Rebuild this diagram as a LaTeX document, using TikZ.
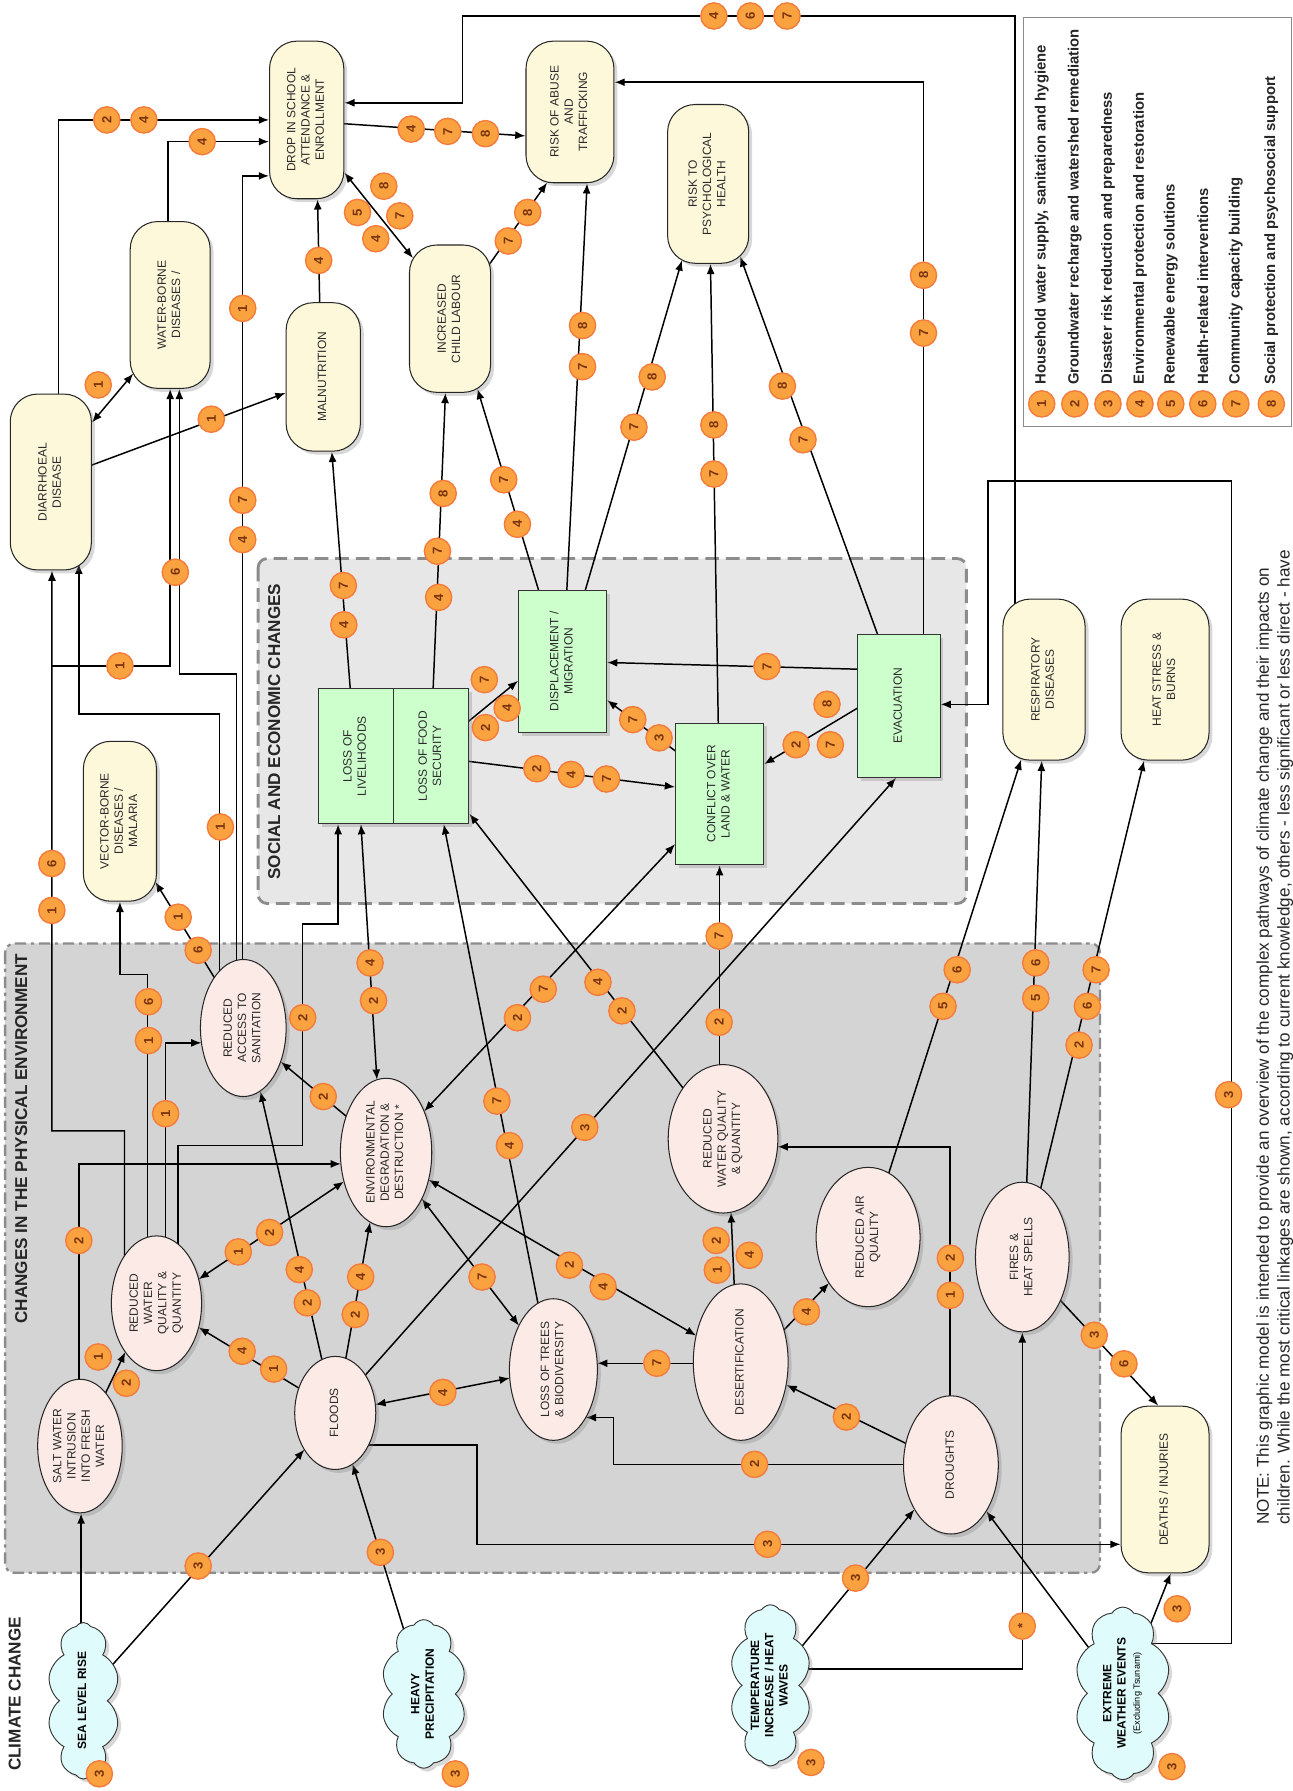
\documentclass[tikz,border=0pt]{standalone}
\usepackage{fontspec}
\setmainfont{Liberation Sans}
\usetikzlibrary{shapes.geometric,shapes.symbols,arrows.meta,calc,shadows}
\definecolor{capfill}{HTML}{FDF8DA}
\definecolor{ellfill}{HTML}{FCEAE6}
\definecolor{boxfill}{HTML}{CCFFCC}
\definecolor{cloudfill}{HTML}{DFFBFB}
\definecolor{physfill}{HTML}{D4D4D4}
\definecolor{socfill}{HTML}{E7E7E7}
\definecolor{regborder}{HTML}{8C8C8C}
\definecolor{bfill}{HTML}{F9A23F}
\definecolor{bdraw}{HTML}{F47B3B}
\definecolor{btext}{HTML}{7A3410}
\definecolor{txt}{HTML}{2B2B2B}
\newcommand{\rt}[1]{\rotatebox{90}{\begin{tabular}{@{}c@{}}#1\end{tabular}}}
\newcommand{\nf}{\fontsize{10.5}{12.5}\selectfont}
\newcounter{bdc}
\newcommand{\bdg}[3]{\stepcounter{bdc}\node[badge] (bd\thebdc) at (#1,#2) {\rotatebox{90}{#3}};}
\pgfdeclarelayer{bgr}\pgfdeclarelayer{lines}\pgfdeclarelayer{fore}
\pgfsetlayers{bgr,lines,main,fore}
\tikzset{
  >={Latex[length=9pt,width=7pt]},
  wh/.style 2 args={minimum width=#1pt, minimum height=#2pt},
  shad/.style={drop shadow={opacity=0.3, shadow xshift=3pt, shadow yshift=-3pt}},
  outcome/.style={rectangle, rounded corners=24pt, draw=black!85, line width=0.9pt, fill=capfill, inner sep=0pt, text=txt, font=\nf, shad},
  physical/.style={ellipse, draw=black!85, line width=0.9pt, fill=ellfill, inner sep=0pt, text=txt, font=\nf, shad},
  social/.style={rectangle, draw=black!80, line width=0.9pt, fill=boxfill, inner sep=0pt, text=txt, font=\nf, shad},
  driver/.style={cloud, cloud puffs=10, cloud puff arc=115, cloud ignores aspect, draw=black!80, line width=0.8pt, fill=cloudfill, inner sep=0pt, shad},
  drivertext/.style={inner sep=0pt, text=black, font=\bfseries\fontsize{10.5}{12.5}\selectfont},
  badge/.style={circle, fill=bfill, draw=bdraw, line width=1.2pt, minimum size=23pt, inner sep=0pt, text=btext, font=\bfseries\fontsize{11.5}{12}\selectfont},
  link/.style={draw=black, line width=1.3pt, ->},
  both/.style={draw=black, line width=1.3pt, <->},
  section/.style={inner sep=0pt, font=\bfseries\fontsize{15}{18}\selectfont, text=black!85},
  legtext/.style={inner sep=0pt, font=\bfseries\fontsize{13}{15}\selectfont, text=black!85},
}
\begin{document}
\begin{tikzpicture}[x=1pt,y=-1pt]
\useasboundingbox (0,0) rectangle (1132,1568);
\begin{pgfonlayer}{bgr}
\fill[white] (0,0) rectangle (1132,1568);
\fill[physfill, rounded corners=8pt] (4.5,826) rectangle (963,1377);
\draw[regborder, line width=2pt, rounded corners=8pt, dash pattern=on 10pt off 4pt on 3pt off 4pt] (4.5,826) rectangle (963,1377);
\fill[socfill, rounded corners=8pt] (226,489) rectangle (846,791);
\draw[regborder, line width=2.5pt, rounded corners=8pt, dash pattern=on 12pt off 6pt] (226,489) rectangle (846,791);
\end{pgfonlayer}

% section titles
\node[section] (tcc) at (13,1483) {\rotatebox{90}{CLIMATE CHANGE}};
\node[section] (tpe) at (18.5,997) {\rotatebox{90}{CHANGES IN THE PHYSICAL ENVIRONMENT}};
\node[section] (tse) at (240,640.5) {\rotatebox{90}{SOCIAL AND ECONOMIC CHANGES}};

% outcomes
\node[outcome, wh={65}{138}] (drop) at (268.5,105) {\rt{DROP IN SCHOOL\\ATTENDANCE \&\\ENROLLMENT}};
\node[outcome, wh={77}{124}] (abuse) at (499,98) {\rt{RISK OF ABUSE\\AND\\TRAFFICKING}};
\node[outcome, wh={71}{139}] (psych) at (620,161) {\rt{RISK TO\\PSYCHOLOGICAL\\HEALTH}};
\node[outcome, wh={70}{146}] (wborne) at (149,267) {\rt{WATER-BORNE\\DISEASES /}};
\node[outcome, wh={65}{130}] (malnut) at (283,330) {\rt{MALNUTRITION}};
\node[outcome, wh={71}{129}] (child) at (394,279) {\rt{INCREASED\\CHILD LABOUR}};
\node[outcome, wh={71}{154}] (diarr) at (44.5,422) {\rt{DIARRHOEAL\\DISEASE}};
\node[outcome, wh={64}{140}] (vector) at (105,719) {\rt{VECTOR-BORNE\\DISEASES /\\MALARIA}};
\node[outcome, wh={72}{141}] (resp) at (914,595) {\rt{RESPIRATORY\\DISEASES}};
\node[outcome, wh={77}{141}] (heat) at (1020,595) {\rt{HEAT STRESS \&\\BURNS}};
\node[outcome, wh={77}{146}] (deaths) at (1020,1304) {\rt{DEATHS / INJURIES}};

% social and economic
\node[social, wh={66}{118}] (liveli) at (311.5,662) {\rt{LOSS OF\\LIVELIHOODS}};
\node[social, wh={66}{118}] (food) at (377.5,662) {\rt{LOSS OF FOOD\\SECURITY}};
\node[social, wh={77}{124}] (displ) at (492.5,579) {\rt{DISPLACEMENT /\\MIGRATION}};
\node[social, wh={77}{124}] (conflict) at (630,695) {\rt{CONFLICT OVER\\LAND \& WATER}};
\node[social, wh={72}{125}] (evac) at (787,618) {\rt{EVACUATION}};

% physical
\node[physical, wh={75}{120}] (sanit) at (213,900) {\rt{REDUCED\\ACCESS TO\\SANITATION}};
\node[physical, wh={80}{130}] (envdeg) at (338,1009) {\rt{ENVIRONMENTAL\\DEGRADATION \&\\DESTRUCTION *}};
\node[physical, wh={79}{118}] (rwql) at (137,1141) {\rt{REDUCED\\WATER\\QUALITY \&\\QUANTITY}};
\node[physical, wh={74}{117}] (salt) at (70,1266) {\rt{SALT WATER\\INTRUSION\\INTO FRESH\\WATER}};
\node[physical, wh={71}{99}] (floods) at (293.5,1237) {\rt{FLOODS}};
\node[physical, wh={77}{124}] (trees) at (484.5,1199) {\rt{LOSS OF TREES\\\& BIODIVERSITY}};
\node[physical, wh={96}{130}] (rwqr) at (633,997) {\rt{REDUCED\\WATER QUALITY\\\& QUANTITY}};
\node[physical, wh={91}{122}] (air) at (760,1083) {\rt{REDUCED AIR\\QUALITY}};
\node[physical, wh={83}{137}] (desert) at (648.5,1192.5) {\rt{DESERTIFICATION}};
\node[physical, wh={82}{131}] (fires) at (895,1100.5) {\rt{FIRES \&\\HEAT SPELLS}};
\node[physical, wh={83}{121}] (drought) at (832.5,1282.5) {\rt{DROUGHTS}};

% climate drivers
\node[driver, wh={63}{137}] (sea) at (73,1489) {};
\node[drivertext] (seaT) at (sea.center) {\rt{SEA LEVEL RISE}};
\node[driver, wh={74}{130}] (heavy) at (371,1483) {};
\node[drivertext] (heavyT) at (heavy.center) {\rt{HEAVY\\PRECIPITATION}};
\node[driver, wh={71}{141}] (temp) at (674.5,1475.5) {};
\node[drivertext] (tempT) at (temp.center) {\rt{TEMPERATURE\\INCREASE / HEAT\\WAVES}};
\node[driver, wh={84}{151}] (extreme) at (983,1482.5) {};
\node[drivertext] (extremeT) at (extreme.center) {\rt{EXTREME\\WEATHER EVENTS\\{\mdseries\fontsize{8}{9.5}\selectfont (Excluding Tsunami)}}};

\coordinate (j1) at (45.4,583);

\begin{pgfonlayer}{lines}
\draw[link] ($(resp.center)+(-25.4,0)$) -- (888.6,14) -- (405,14) -- (405,90) -- (drop.east |- 0,90);
\draw[link] ($(evac.center)+(21.5,0)$) -- (808.5,72) -- (abuse.east |- 0,72);
\draw[link] ($(extreme.center)+(25,-43.5)$) -- (1078,1439) -- (1078,421) -- (865,421) -- (865,616.7) -- (evac.east |- 0,616.7);
\draw[link] ($(extreme.center)+(20.4,-50.5)$) -- ($(deaths.south)+(5,0)$);
\draw[link] ($(extreme.center)+(-28,-37.5)$) -- ($(drought.center)+(31,40.5)$);
\draw[link] ($(temp.center)+(15.5,-19.5)$) -- ($(drought.center)+(-32,39)$);
\draw[link] ($(temp.center)+(20,-14.5)$) -- (fires.south |- 0,1461) -- (fires.south);
\draw[link] ($(floods.center)+(20,28)$) -- (417.5,1265) -- (417.5,1352) -- (deaths.west |- 0,1352);
\draw[link] ($(drought.center)+(-20,-0.5)$) -- (537,1282) -- (537,1241) -- ($(trees.center)+(28.3,42)$);
\draw[link] ($(drought.center)+(-27.5,-13)$) -- ($(desert.center)+(40,20)$);
\draw[link] ($(drought.center)+(-0.7,-20)$) -- (831.8,1004) -- ($(rwqr.center)+(47.7,7)$);
\draw[link] ($(desert.center)+(-4.5,-40)$) -- ($(rwqr.center)+(7,64.3)$);
\draw[link] ($(desert.center)+(30,-20)$) -- ($(air.center)+(-34.1,40.2)$);
\draw[link] ($(desert.center)+(-20,1)$) -- ($(trees.center)+(38.35,-5.5)$);
\draw[both] ($(envdeg.center)+(37.2,23.8)$) -- ($(desert.center)+(-39,-23.2)$);
\draw[both] ($(envdeg.center)+(31.3,40.5)$) -- ($(trees.center)+(-30.2,-38.5)$);
\draw[link] ($(rwqr.center)+(-30,-38)$) -- ($(food.south east)+(0,-9)$);
\draw[link] ($(rwqr.center)+(-3,0)$) -- (conflict.south);
\draw[link] ($(floods.center)+(20,-26)$) -- ($(evac.south)+(-2.5,0)$);
\draw[both] ($(envdeg.center)+(33.3,-36)$) -- ($(conflict.west)+(0,44)$);
\draw[link] ($(trees.center)+(-10,-40)$) -- ($(food.south)+(11,0)$);
\draw[both] ($(envdeg.center)+(-8,-63.7)$) -- ($(liveli.south)+(4.5,0)$);
\draw[link] ($(rwql.center)+(19,0)$) -- (156,1003) -- (265,1003) -- (265,809) -- (296,809) -- (liveli.south -| 296,0);
\draw[link] ($(rwql.center)+(8,0)$) -- (145,913) -- ($(sanit.center)+(-36.6,13)$);
\draw[link] ($(rwql.center)+(-8,0)$) -- (129,853) -- (105,853) -- (vector.south);
\draw[link] ($(rwql.center)+(-28,0)$) -- (109,990) -- (45.4,990) -- ($(diarr.south)+(1,0)$);
\draw[link] (j1) -- (149,583) -- (wborne.south);
\draw[link] ($(sanit.center)+(-21,0)$) -- (192,625) -- (69,625) -- ($(diarr.south)+(24.5,-6)$);
\draw[link] ($(sanit.center)+(-6,0)$) -- (207,590) -- (157,590) -- ($(wborne.south)+(8,0)$);
\draw[link] ($(sanit.center)+(-0.5,0)$) -- (212.5,154) -- (drop.west |- 0,154);
\draw[link] ($(sanit.center)+(-16,-29)$) -- ($(vector.center)+(31,53)$);
\draw[link] ($(envdeg.center)+(-28,-26)$) -- ($(sanit.center)+(32.8,29.5)$);
\draw[link] ($(salt.center)+(-1,0)$) -- (69,1019) -- ($(envdeg.center)+(-39.5,10)$);
\draw[both] ($(envdeg.center)+(-36.8,25.4)$) -- ($(rwql.center)+(36.9,-21)$);
\draw[link] ($(salt.center)+(15,-31)$) -- ($(rwql.center)+(-27.3,42.7)$);
\draw[link] ($(floods.center)+(-24,-17)$) -- ($(rwql.center)+(36.9,21.1)$);
\draw[link] ($(floods.center)+(-9,-35)$) -- ($(sanit.center)+(15,55.5)$);
\draw[link] ($(floods.center)+(7,-35)$) -- ($(envdeg.center)+(-14,61)$);
\draw[both] ($(floods.center)+(35.1,-7.3)$) -- ($(trees.center)+(-38.2,7.5)$);
\draw[link] ($(sea.center)+(-2,-40)$) -- ($(salt.south)+(1,0)$);
\draw[link] ($(sea.center)+(17,-22)$) -- ($(floods.center)+(-27,32.1)$);
\draw[link] ($(heavy.center)+(-14,-45)$) -- ($(floods.center)+(15.2,44.7)$);
\draw[link] ($(fires.center)+(25,29)$) -- ($(deaths.north)+(-6,0)$);
\draw[link] ($(fires.center)+(3,-40)$) -- ($(resp.south)+(-2,0)$);
\draw[link] ($(fires.center)+(12,-43)$) -- ($(heat.south)+(-18.4,0)$);
\draw[link] ($(air.center)+(13,-40)$) -- ($(resp.south)+(-20,-1)$);
\draw[link] ($(food.east)+(-5,-27)$) -- ($(displ.west)+(0,17)$);
\draw[link] ($(food.east)+(-5,4)$) -- ($(conflict.west)+(0,-6)$);
\draw[link] ($(conflict.west)+(5,-34)$) -- ($(displ.east)+(0,34)$);
\draw[link] ($(evac.west)+(5,-32)$) -- ($(displ.east)+(0,1)$);
\draw[link] ($(evac.west)+(5,-1)$) -- ($(conflict.east)+(0,-26)$);
\draw[link] ($(conflict.north)+(-1,10)$) -- ($(psych.south)+(2,0)$);
\draw[link] ($(displ.north)+(18.5,5)$) -- ($(psych.south)+(-23,-3)$);
\draw[link] ($(displ.north)+(3.5,5)$) -- ($(abuse.south)+(15,0)$);
\draw[link] ($(displ.north)+(-19.5,5)$) -- ($(child.south)+(24,-3.5)$);
\draw[link] ($(food.north)+(1.5,5)$) -- ($(child.south)+(-4,0)$);
\draw[link] ($(liveli.north)+(-4.5,5)$) -- ($(malnut.south)+(7.5,0)$);
\draw[link] ($(evac.north)+(-17,5)$) -- ($(psych.south)+(28,-6.5)$);
\draw[link] ($(child.center)+(27,-37)$) -- ($(abuse.south)+(-20,-0.6)$);
\draw[link] ($(drop.east)+(-5,3)$) -- ($(abuse.west)+(0,21)$);
\draw[both] ($(drop.east)+(0,46)$) -- ($(child.west)+(3.5,-53)$);
\draw[link] ($(malnut.north)+(-3,5)$) -- ($(drop.south)+(9.5,0)$);
\draw[link] ($(diarr.north)+(6.5,5)$) -- (51,105) -- (drop.west);
\draw[link] ($(wborne.north)+(-2,5)$) -- (147,124) -- (drop.west |- 0,124);
\draw[both] ($(diarr.east)+(0,-52)$) -- ($(wborne.center)+(-32.3,60)$);
\draw[link] ($(diarr.east)+(-5,-13)$) -- ($(malnut.west)+(0,14)$);
\end{pgfonlayer}

\begin{pgfonlayer}{fore}
\bdg{625}{14}{4}\bdg{657}{14}{6}\bdg{689}{14}{7}
\bdg{93.5}{105}{2}\bdg{126}{105}{4}\bdg{177}{124}{4}
\bdg{360}{113}{4}\bdg{392}{115}{7}\bdg{425}{117}{8}
\bdg{336}{163}{8}\bdg{350}{189}{7}\bdg{313}{186}{5}\bdg{329}{209}{4}
\bdg{445}{211}{7}\bdg{462}{186}{8}
\bdg{279}{228}{4}
\bdg{86}{337}{1}
\bdg{185}{367}{1}
\bdg{212.5}{270}{1}\bdg{212.5}{438}{7}\bdg{212.5}{472.4}{4}
\bdg{153.5}{501}{6}
\bdg{105}{583}{1}
\bdg{193}{724}{1}
\bdg{300.6}{512.6}{7}\bdg{301}{547}{4}
\bdg{388}{432}{8}\bdg{383}{482.6}{7}\bdg{384}{523}{4}
\bdg{441}{420}{7}\bdg{453}{459}{4}
\bdg{510}{285}{8}\bdg{510}{321}{7}
\bdg{571}{330}{8}\bdg{555}{374}{7}
\bdg{625}{372}{8}\bdg{625}{415}{7}
\bdg{685}{338}{8}\bdg{703}{385}{7}
\bdg{808.5}{241}{8}\bdg{808.5}{291.6}{7}
\bdg{424}{595}{7}\bdg{444}{620}{4}\bdg{425}{637}{2}
\bdg{470}{673}{2}\bdg{500}{678}{4}\bdg{531}{682}{7}
\bdg{554}{630}{7}\bdg{577}{646}{3}
\bdg{671.5}{583.5}{7}
\bdg{724}{616.6}{8}\bdg{697}{652}{2}\bdg{727}{652}{7}
\bdg{1075.6}{958.4}{3}
\bdg{45.4}{756}{6}\bdg{45.4}{797}{1}
\bdg{156}{803}{1}\bdg{173.5}{832}{6}
\bdg{130}{877}{6}\bdg{130}{911}{1}
\bdg{145}{975}{1}
\bdg{265}{891}{2}
\bdg{283}{960}{2}
\bdg{324}{843}{4}\bdg{327}{876}{2}
\bdg{453}{891}{2}\bdg{475.6}{866}{7}
\bdg{435}{964}{7}\bdg{446}{1003}{4}
\bdg{523.5}{860}{4}\bdg{544.5}{885}{2}
\bdg{512}{987}{3}
\bdg{629.6}{819.5}{7}\bdg{629.6}{895}{2}
\bdg{838}{849}{6}\bdg{825.6}{881}{5}
\bdg{906.8}{843}{6}\bdg{906.8}{874}{5}
\bdg{959.6}{849}{7}\bdg{952}{881}{6}\bdg{944.7}{915}{2}
\bdg{69}{1086}{2}
\bdg{208.6}{1096}{1}\bdg{236}{1079}{2}
\bdg{86}{1188}{1}\bdg{110.6}{1211}{2}
\bdg{212}{1183}{4}\bdg{239.6}{1198.6}{1}
\bdg{262}{1111.5}{4}\bdg{269}{1140.6}{2}
\bdg{311}{1150.8}{2}\bdg{315.8}{1118}{4}
\bdg{387.7}{1219}{4}
\bdg{422}{1118}{7}
\bdg{498.5}{1107.6}{2}\bdg{528}{1126.5}{4}
\bdg{575}{1193.5}{7}
\bdg{627}{1086}{2}\bdg{628}{1112}{1}\bdg{656}{1099}{4}
\bdg{706}{1148.5}{4}
\bdg{832}{1101.5}{2}\bdg{832}{1134}{1}
\bdg{741}{1240.6}{2}
\bdg{660.6}{1282}{2}
\bdg{958}{1169}{3}\bdg{984}{1194}{6}
\bdg{672}{1352}{3}
\bdg{173.5}{1371}{3}
\bdg{333}{1359}{3}
\bdg{749}{1381.6}{3}
\bdg{895}{1423.6}{*}
\bdg{1030.6}{1408.5}{3}
\bdg{87}{1553}{3}\bdg{398.6}{1553}{3}\bdg{710}{1543}{3}\bdg{1026}{1546.6}{3}
\end{pgfonlayer}

% legend
\node[draw=black!45, line width=0.8pt, wh={235}{358}, inner sep=0pt] (legend) at (1013.5,194) {};
\node[badge] (lg1) at (912,353.6) {\rotatebox{90}{1}};
\node[badge] (lg2) at (941,353.6) {\rotatebox{90}{2}};
\node[badge] (lg3) at (970,353.6) {\rotatebox{90}{3}};
\node[badge] (lg4) at (998,353.6) {\rotatebox{90}{4}};
\node[badge] (lg5) at (1025,353.6) {\rotatebox{90}{5}};
\node[badge] (lg6) at (1053,353.6) {\rotatebox{90}{6}};
\node[badge] (lg7) at (1082,353.6) {\rotatebox{90}{7}};
\node[badge] (lg8) at (1113,353.6) {\rotatebox{90}{8}};
\node[legtext, anchor=south] (lt1) at (912,337) {\rotatebox{90}{Household water supply, sanitation and hygiene}};
\node[legtext, anchor=south] (lt2) at (941,337) {\rotatebox{90}{Groundwater recharge and watershed remediation}};
\node[legtext, anchor=south] (lt3) at (970,337) {\rotatebox{90}{Disaster risk reduction and preparedness}};
\node[legtext, anchor=south] (lt4) at (998,337) {\rotatebox{90}{Environmental protection and restoration}};
\node[legtext, anchor=south] (lt5) at (1025,337) {\rotatebox{90}{Renewable energy solutions}};
\node[legtext, anchor=south] (lt6) at (1053,337) {\rotatebox{90}{Health-related interventions}};
\node[legtext, anchor=south] (lt7) at (1082,337) {\rotatebox{90}{Community capacity building}};
\node[legtext, anchor=south] (lt8) at (1113,337) {\rotatebox{90}{Social protection and psychosocial support}};

% note
\node[inner sep=0pt, anchor=south west, font=\fontsize{15}{18.2}\selectfont, text=black!85] (note) at (1098,1335) {\rotatebox{90}{\begin{tabular}{@{}l@{}}NOTE: This graphic model is intended to provide an overview of the complex pathways of climate change and their impacts on\\children. While the most critical linkages are shown, according to current knowledge, others - less significant or less direct - have\end{tabular}}};
\end{tikzpicture}
\end{document}
